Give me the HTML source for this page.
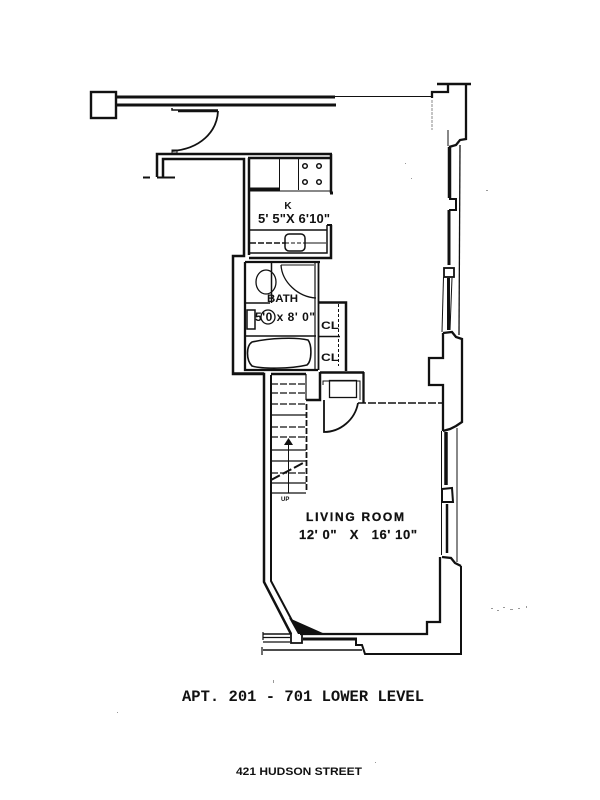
<!DOCTYPE html>
<html>
<head>
<meta charset="utf-8">
<style>
html,body{margin:0;padding:0;background:#fff;width:600px;height:800px;overflow:hidden}
svg{display:block;filter:blur(.3px)}
text{fill:#111}
.s{font-family:"Liberation Sans",sans-serif;font-weight:bold}
.m{font-family:"Liberation Mono",monospace;font-weight:bold}
</style>
</head>
<body>
<svg width="600" height="800" viewBox="0 0 600 800" xmlns="http://www.w3.org/2000/svg">
<g fill="none" stroke="#111" stroke-width="2" stroke-linejoin="miter">
<!-- entry pillar + top walls -->
<rect x="91" y="92" width="25" height="26" stroke-width="2.4"/>
<path d="M116 97H335" stroke-width="3"/>
<path d="M335 96.500H432" stroke-width="1"/>
<path d="M116 105H336" stroke-width="3"/>
<!-- entry door -->
<path d="M172 108V110H218" stroke-width="1.500"/>
<path d="M178 111H218" stroke-width="2.500"/>
<path d="M218 111C217 132 200 149 172 151" stroke-width="1.800"/>
<rect x="172" y="150" width="5" height="3" stroke-width="1"/>
<!-- hall stub -->
<path d="M157 177V154H332" stroke-width="2.500"/>
<path d="M163 177V159H244V256H233V374H264V582L291 634" stroke-width="2.500"/>
<path d="M143 177.500H150M157 177.500H175" stroke-width="2"/>
<!-- kitchen -->
<path d="M331 154V193M248 158H330M249 158V255" stroke-width="2.500"/>
<path d="M330 193H333" stroke-width="3"/>
<path d="M250 189H280" stroke-width="3"/>
<path d="M250 191H330" stroke-width="1"/>
<path d="M279.500 159V190M298.500 159V190" stroke-width="1"/>
<circle cx="305" cy="166" r="2.300" stroke-width="1.500"/>
<circle cx="319" cy="166" r="2.300" stroke-width="1.500"/>
<circle cx="305" cy="182" r="2.300" stroke-width="1.500"/>
<circle cx="319" cy="182" r="2.300" stroke-width="1.500"/>
<path d="M249 230H327" stroke-width="1.500"/>
<path d="M327 225V253H249" stroke-width="1.500"/>
<path d="M331 225V258H249" stroke-width="2.500"/>
<path d="M327 225H332" stroke-width="2"/>
<path d="M250 243H286" stroke-width="1.500" stroke-dasharray="6 2"/>
<path d="M305 243H326" stroke-width="1"/>
<path d="M285 243H305" stroke-width="1" stroke-dasharray="4 2"/>
<rect x="285" y="234" width="20" height="17" rx="4" stroke-width="1.500"/>
<!-- bath -->
<path d="M245 262H320M245 262V370H318" stroke-width="2.300"/>
<path d="M315 263V369" stroke-width="1.200"/>
<path d="M318.500 262V370" stroke-width="1.800"/>
<ellipse cx="266" cy="282" rx="10" ry="12" stroke-width="1.300"/>
<path d="M271.500 263V303M245 303H270" stroke-width="1.500"/>
<path d="M281 265C282 282 298 297 316 298" stroke-width="1.300"/>
<path d="M281 265H314" stroke-width="1"/>
<rect x="247" y="310" width="8" height="19" stroke-width="1.500"/>
<circle cx="268" cy="317" r="7" stroke-width="1.300"/>
<path d="M245 336H316" stroke-width="1.500"/>
<path d="M252 342C270 338 295 337 308 340C312 345 312 361 307 365C290 369 262 369 252 366C246 360 246 346 252 342Z" stroke-width="1.600"/>
<!-- closets -->
<path d="M319 302.500H346V371" stroke-width="2.500"/>
<path d="M338.500 304V366" stroke-width="1" stroke-dasharray="3 2"/>
<path d="M319 336.500H340" stroke-width="1.500"/>
<!-- stairs + closet below -->
<path d="M271 375V581L296 628" stroke-width="2"/>
<path d="M232 373.500H264M271 374H306M320 372.500H364" stroke-width="2.500"/>
<path d="M306 374V400" stroke-width="1.200"/>
<path d="M320 372V400H306" stroke-width="2.500"/>
<path d="M363.500 372V403" stroke-width="2.300"/>
<rect x="329.500" y="380.500" width="27" height="17" stroke-width="1.300"/>
<path d="M323 385V381H360V400" stroke-width="1"/>
<path d="M324 400V432C340 432 355 420 358 403" stroke-width="1.800"/>
<path d="M358 403H443" stroke-width="1.600" stroke-dasharray="8 2"/>
<path d="M306.500 404V492" stroke-width="1.800" stroke-dasharray="6 2"/>
<path d="M271 384H306M271 393H306M271 404H306M271 427H306M271 437H306M271 473H306" stroke-width="1.300" stroke-dasharray="7 2"/>
<path d="M271 415H306M271 450H306M271 461H306M271 483H306M271 493H306" stroke-width="1.300"/>
<path d="M271 480L305 462" stroke-width="2" stroke-dasharray="10 3"/>
<path d="M288.500 445V493" stroke-width="1"/>
<path d="M284 445H293L288.500 438Z" fill="#111" stroke="none"/>
<!-- bottom-left corner -->
<path d="M291 633V643H302V628" stroke-width="1.800"/>
<path d="M289 618L325 634H298Z" fill="#111" stroke="none"/>
<!-- bottom window + walls -->
<path d="M263 632V640M262 647V655" stroke-width="1.200"/>
<path d="M263 634H290" stroke-width="1.500"/>
<path d="M263 637.500H290" stroke-width="1.200"/>
<path d="M263 642H290" stroke-width="1.200"/>
<path d="M263 650H362" stroke-width="1.500"/>
<path d="M300 634H427V622H440V557" stroke-width="2.300"/>
<path d="M303 639H357" stroke-width="3"/>
<path d="M356 640V645H362L365 654H461V566" stroke-width="2"/>
<!-- right side top -->
<path d="M437 84H471" stroke-width="2.500"/>
<path d="M448 84V92H432V98" stroke-width="2.300"/>
<path d="M432 100V130" stroke-width="1" stroke-dasharray="3 1" stroke-opacity=".5"/>
<path d="M466 84V139L460 140L456 145L449 147" stroke-width="2.300"/>
<path d="M448 130V146" stroke-width="1"/>
<path d="M449.500 147V198" stroke-width="3.500"/>
<path d="M449 199H456V210H449" stroke-width="2"/>
<path d="M449 210V265" stroke-width="3"/>
<path d="M460 145L459 335" stroke-width="1.300"/>
<rect x="444" y="268" width="10" height="9" stroke-width="1.800"/>
<path d="M448.500 278V330" stroke-width="3"/>
<path d="M443.500 277L442 332" stroke-width="1"/>
<path d="M452 278L450 330" stroke-width="1"/>
<path d="M443 333L452 332L456 337L462 339V422L456 426L450 429L443 431" stroke-width="2.300"/>
<path d="M443 333V358H429V385H443V431" stroke-width="2.300"/>
<!-- right side bottom -->
<path d="M446 432V485" stroke-width="3.500"/>
<path d="M441.500 431V555M457 428L457 562" stroke-width="1"/>
<path d="M442 489L452 488L453 502H442Z" stroke-width="2"/>
<path d="M447 504V553" stroke-width="2.500"/>
<path d="M442 557L451 558L455 563L461 566" stroke-width="2.300"/>
</g>
<!-- labels -->
<text class="s" x="288" y="209" font-size="10" text-anchor="middle">K</text>
<text class="s" x="258" y="223" font-size="13" font-weight="normal" textLength="72" lengthAdjust="spacing">5' 5"X 6'10"</text>
<text class="s" x="267" y="302" font-size="11" font-weight="normal" textLength="31" lengthAdjust="spacingAndGlyphs">BATH</text>
<text class="s" x="255" y="321" font-size="12" font-weight="normal" textLength="60" lengthAdjust="spacing">5'0 x 8' 0"</text>
<text class="s" x="321" y="329" font-size="11" textLength="18" lengthAdjust="spacingAndGlyphs">CL</text>
<text class="s" x="321" y="361" font-size="11" textLength="18" lengthAdjust="spacingAndGlyphs">CL</text>
<text class="s" x="281" y="501" font-size="6">UP</text>
<text class="s" x="306" y="521" font-size="12" font-weight="normal" stroke="#111" stroke-width=".3" textLength="98" lengthAdjust="spacing">LIVING ROOM</text>
<text class="s" x="299" y="539" font-size="13" font-weight="normal" stroke="#111" stroke-width=".2" textLength="118" xml:space="preserve" lengthAdjust="spacing">12' 0"   X   16' 10"</text>
<text class="m" x="182" y="701" font-size="15.500" textLength="242" lengthAdjust="spacingAndGlyphs">APT. 201 - 701 LOWER LEVEL</text>
<text class="s" x="236" y="775" font-size="11" textLength="126" lengthAdjust="spacingAndGlyphs">421 HUDSON STREET</text>
<!-- scan specks -->
<g fill="#999">
<rect x="491" y="608" width="2" height="1"/><rect x="497" y="610" width="2" height="1"/><rect x="503" y="607" width="2" height="1"/>
<rect x="510" y="609" width="3" height="1"/><rect x="518" y="608" width="2" height="1"/><rect x="526" y="606" width="1" height="2"/>
<rect x="273" y="680" width="1" height="3"/><rect x="117" y="712" width="1" height="1"/><rect x="375" y="762" width="1" height="1"/>
<rect x="405" y="163" width="1" height="1"/><rect x="411" y="178" width="1" height="1"/><rect x="486" y="190" width="2" height="1"/>
</g>
</svg>
</body>
</html>
